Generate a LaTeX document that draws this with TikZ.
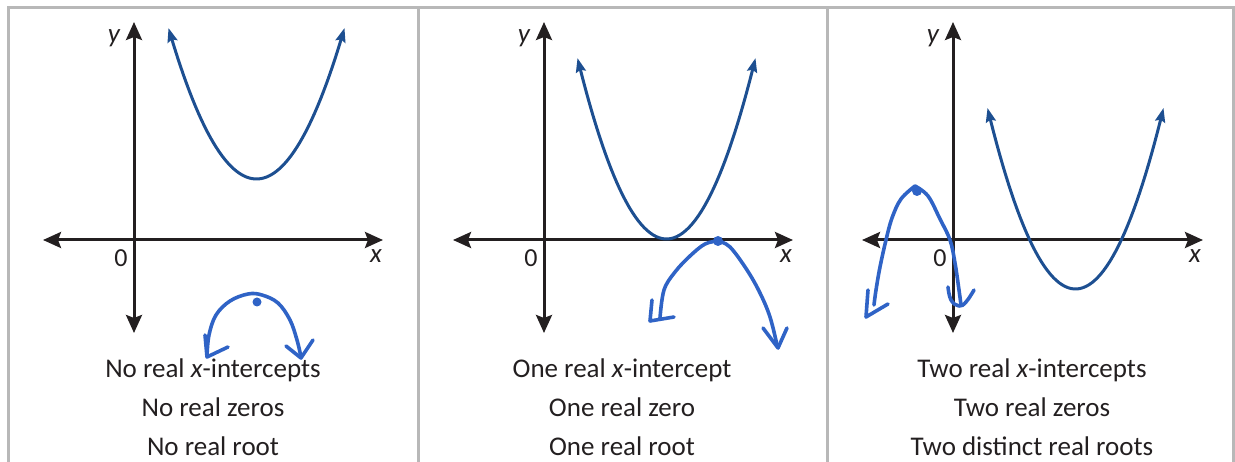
\documentclass[tikz,border=0pt]{standalone}
\usepackage{fontspec}
\setmainfont{Carlito}
\usetikzlibrary{arrows.meta}
\definecolor{ink}{HTML}{231F20}
\definecolor{curveblue}{HTML}{1D4F91}
\definecolor{penblue}{HTML}{2F63C6}
\definecolor{framegray}{HTML}{B8B8B8}
\tikzset{
  axisline/.style={line width=3pt, ink, {Stealth[length=18pt,width=16pt,inset=3pt]}-{Stealth[length=18pt,width=16pt,inset=3pt]}},
  parab/.style={line width=3pt, curveblue, {Stealth[length=14pt,width=10pt,inset=2pt]}-{Stealth[length=14pt,width=10pt,inset=2pt]}},
  pen/.style={line width=3.6pt, penblue, line cap=round, line join=round},
  caption/.style={anchor=base, text=ink, font=\fontsize{27}{32}\selectfont, inner sep=0pt},
  axlabel/.style={text=ink, font=\fontsize{27}{30}\selectfont\itshape, inner sep=0pt},
  zerolabel/.style={text=ink, font=\fontsize{26}{30}\selectfont, inner sep=0pt},
  frame/.style={line width=3pt, framegray}
}
\begin{document}
\begin{tikzpicture}[x=1pt,y=-1pt]
\useasboundingbox (0,0) rectangle (1235,462);
% frame
\draw[frame] (8.5,480) -- (8.5,7.5) -- (1233,7.5) -- (1233,480);
\draw[frame] (418,7.5) -- (418,480);
\draw[frame] (827,7.5) -- (827,480);

% ---------- Panel 1 ----------
\coordinate (a1l) at (43,240); \coordinate (a1r) at (383,240);
\coordinate (a1t) at (134,22); \coordinate (a1b) at (134,333);
\draw[axisline] (a1l) -- (a1r);
\draw[axisline] (a1b) -- (a1t);
\node[axlabel] (y1) at (114,38) {y};
\node[zerolabel] (o1) at (121,258) {0};
\node[axlabel] (x1) at (376,256) {x};
\draw[parab] plot[domain=-88:88, samples=60, variable=\t] ({256.5+\t},{179-0.0195*\t*\t});
% hand drawn
\draw[pen] plot[smooth, tension=0.6] coordinates {(207,356) (209,335) (216,315) (230,301) (248,294) (262,295) (278,303) (290,320) (297,340) (301,357)};
\draw[pen] (205,335) -- (207,357) -- (228,347);
\draw[pen] (286,346) -- (301,358) -- (313,340);
\fill[penblue] (257,302) circle (4.5pt);
\node[caption] (t11) at (213,378) {No real \textit{x}-intercepts};
\node[caption] (t12) at (213,417) {No real zeros};
\node[caption] (t13) at (213,455) {No real root};

% ---------- Panel 2 ----------
\coordinate (a2l) at (453,240); \coordinate (a2r) at (793,240);
\coordinate (a2t) at (544,22); \coordinate (a2b) at (544,333);
\draw[axisline] (a2l) -- (a2r);
\draw[axisline] (a2b) -- (a2t);
\node[axlabel] (y2) at (524,38) {y};
\node[zerolabel] (o2) at (531,258) {0};
\node[axlabel] (x2) at (786,256) {x};
\draw[parab] plot[domain=-89:89, samples=60, variable=\t] ({666.5+\t},{239-0.02285*\t*\t});
% hand drawn
\draw[pen] plot[smooth, tension=0.6] coordinates {(718,241) (705,244) (690,256) (675,272) (664,290) (660,318)};
\draw[pen] (652,300) -- (650,321) -- (674,317);
\draw[pen] plot[smooth, tension=0.6] coordinates {(718,241) (730,247) (747,270) (760,293) (770,317) (777,345)};
\draw[pen] (763,328) -- (778,348) -- (787,328);
\fill[penblue] (718,241) circle (5pt);
\node[caption] (t21) at (622,378) {One real \textit{x}-intercept};
\node[caption] (t22) at (622,417) {One real zero};
\node[caption] (t23) at (622,455) {One real root};

% ---------- Panel 3 ----------
\coordinate (a3l) at (862,240); \coordinate (a3r) at (1203,240);
\coordinate (a3t) at (953,22); \coordinate (a3b) at (953,333);
\draw[axisline] (a3l) -- (a3r);
\draw[axisline] (a3b) -- (a3t);
\node[axlabel] (y3) at (933,38) {y};
\node[zerolabel] (o3) at (940,258) {0};
\node[axlabel] (x3) at (1195,256) {x};
\draw[parab] plot[domain=-88:88, samples=60, variable=\t] ({1075.5+\t},{289-0.02337*\t*\t});
% hand drawn
\draw[pen] plot[smooth, tension=0.6] coordinates {(874,305) (876,290) (880,267) (886,240) (892,218) (901,199) (915,186)};
\draw[pen] (868,290) -- (866,317) -- (888,304);
\draw[pen] plot[smooth, tension=0.6] coordinates {(915,186) (928,196) (940,219) (950,240) (955,263) (959,290) (961,305)};
\draw[pen] plot[smooth, tension=0.7] coordinates {(948,287) (951,300) (959,306) (966,302) (974,290)};
\fill[penblue] (917,191) circle (5pt);
\node[caption] (t31) at (1032,378) {Two real \textit{x}-intercepts};
\node[caption] (t32) at (1032,417) {Two real zeros};
\node[caption] (t33) at (1032,455) {Two distinct real roots};
\end{tikzpicture}
\end{document}
